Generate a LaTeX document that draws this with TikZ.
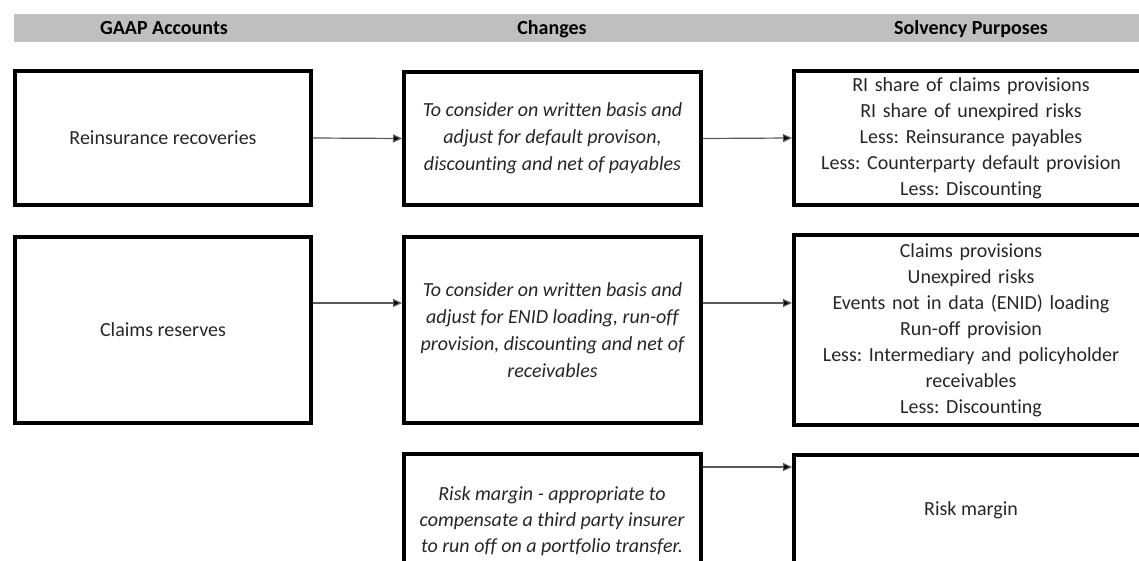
\documentclass[tikz,border=0pt]{standalone}
\usepackage{fontspec}
\setmainfont{Carlito}[Ligatures=NoCommon]
\usetikzlibrary{arrows.meta}
\frenchspacing
\definecolor{hdrgray}{HTML}{BFBFBF}
\definecolor{txt}{HTML}{262626}
\definecolor{arrgray}{HTML}{595959}
\tikzset{
  box/.style={draw=black, line width=4pt, rectangle, inner sep=0pt, align=center,
    text=txt, font=\fontsize{20}{26}\selectfont},
  chg/.style={box, font=\fontsize{20}{27}\selectfont\itshape},
  plain/.style={inner sep=0pt, align=center, text=txt},
  hdrtext/.style={inner sep=0pt, anchor=base, text=black, font=\fontsize{20}{24}\selectfont\bfseries},
  arr/.style={draw=arrgray, line width=1.2pt, -{Triangle[length=9pt,width=8pt,fill=black]}}
}
\begin{document}
\begin{tikzpicture}[x=1pt,y=-1pt]
\useasboundingbox (0,0) rectangle (1139,561);
\clip (0,0) rectangle (1139,561);
% header bar
\node[fill=hdrgray, draw=none, inner sep=0pt, minimum width=1140pt, minimum height=28pt, anchor=north west] (bar) at (14,14) {};
\node[hdrtext] (h1) at (164,34.5) {GAAP Accounts};
\node[hdrtext] (h2) at (552,34.5) {Changes};
\node[hdrtext] (h3) at (971,34.5) {Solvency Purposes};
% row 1
\node[box, minimum width=296pt, minimum height=134pt] (A1) at (163,138) {Reinsurance recoveries};
\node[chg, minimum width=297pt, minimum height=133pt] (A2) at (552.5,138.5) {To consider on written basis and\\adjust for default provison,\\discounting and net of payables};
\node[box, minimum width=366pt, minimum height=134pt, text width=366pt] (A3) at (977,138) {\hspace*{-12pt}RI share of claims provisions\\\hspace*{-12pt}RI share of unexpired risks\\\hspace*{-12pt}Less: Reinsurance payables\\\hspace*{-12pt}Less: Counterparty default provision\\\hspace*{-12pt}Less: Discounting};
% row 2
\node[box, minimum width=296pt, minimum height=186pt] (B1) at (163,330) {Claims reserves};
\node[chg, minimum width=297pt, minimum height=186pt] (B2) at (552.5,330) {To consider on written basis and\\adjust for ENID loading, run-off\\provision, discounting and net of\\receivables};
\node[box, minimum width=366pt, minimum height=190pt, text width=366pt] (B3) at (977,330) {\hspace*{-12pt}Claims provisions\\\hspace*{-12pt}Unexpired risks\\\hspace*{-12pt}Events not in data (ENID) loading\\\hspace*{-12pt}Run-off provision\\\hspace*{-12pt}Less: Intermediary and policyholder\\\hspace*{-12pt}receivables\\\hspace*{-12pt}Less: Discounting};
% row 3
\node[box, minimum width=297pt, minimum height=196pt] (C2) at (552.5,552) {};
\node[box, minimum width=366pt, minimum height=195pt] (C3) at (977,552.5) {};
\node[plain, font=\fontsize{20}{26}\selectfont\itshape] (C2t) at (552,521) {Risk margin - appropriate to\\compensate a third party insurer\\to run off on a portfolio transfer.};
\node[plain, font=\fontsize{20}{26}\selectfont] (C3t) at (971,510) {Risk margin};
% connectors
\coordinate (r3) at (0,467);
\draw[arr] (A1.east) -- (A2.west);
\draw[arr] (A2.east) -- (A3.west);
\draw[arr] (B1.east |- 0,303) -- (B2.west |- 0,303);
\draw[arr] (B2.east |- 0,303) -- (B3.west |- 0,303);
\draw[arr] (C2.east |- r3) -- (C3.west |- r3);
\end{tikzpicture}
\end{document}
